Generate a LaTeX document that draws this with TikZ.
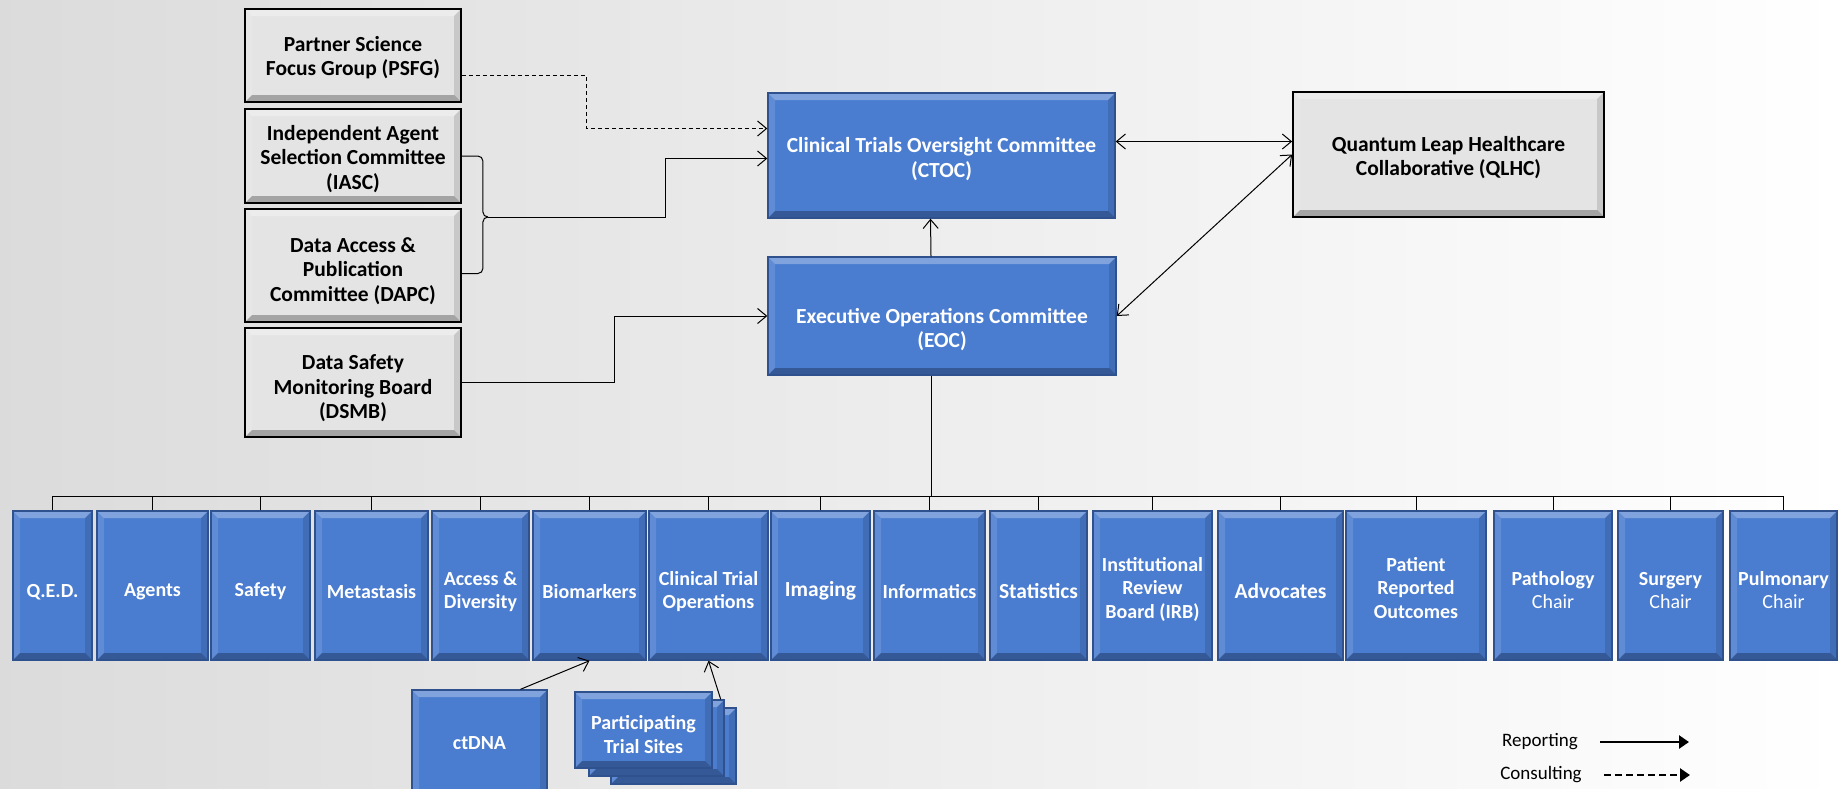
\documentclass[tikz,border=0pt]{standalone}
\usepackage{fontspec}
\setmainfont{Carlito}
\usetikzlibrary{arrows.meta}
\definecolor{boxblue}{HTML}{4A7CD0}
\definecolor{blueedge}{HTML}{2F528F}
\definecolor{boxgray}{HTML}{E4E4E4}

\begin{document}
\begin{tikzpicture}[x=1pt,y=-1pt,
  bevel/.style={path picture={
    \coordinate (pa) at (path picture bounding box.north west);
    \coordinate (pb) at (path picture bounding box.north east);
    \coordinate (pc) at (path picture bounding box.south east);
    \coordinate (pd) at (path picture bounding box.south west);
    \fill[white,opacity=.3] (pa) -- (pb) -- ([shift={(-7pt,-7pt)}]pb) -- ([shift={(7pt,-7pt)}]pa) -- cycle;
    \fill[white,opacity=.12] (pa) -- ([shift={(7pt,-7pt)}]pa) -- ([shift={(7pt,7pt)}]pd) -- (pd) -- cycle;
    \fill[black,opacity=.12] (pb) -- ([shift={(-7pt,-7pt)}]pb) -- ([shift={(-7pt,7pt)}]pc) -- (pc) -- cycle;
    \fill[black,opacity=.28] (pd) -- ([shift={(7pt,7pt)}]pd) -- ([shift={(-7pt,7pt)}]pc) -- (pc) -- cycle;}},
  lower/.style={execute at begin node={\rule{0pt}{#1}}},
  graybox/.style={draw=black,line width=1.8pt,fill=boxgray,bevel,align=center,inner sep=2pt,
    font=\bfseries\fontsize{21.5}{24.5}\selectfont},
  bluebox/.style={draw=blueedge,line width=1.4pt,fill=boxblue,bevel,align=center,inner sep=2pt,
    text=white,font=\bfseries\fontsize{21.5}{24.5}\selectfont},
  unitbox/.style={bluebox,minimum height=149pt,font=\bfseries\fontsize{20}{23.5}\selectfont},
  rep/.style={-{Straight Barb[length=9pt,width=15pt]},line width=1pt},
  both/.style={{Straight Barb[length=9pt,width=15pt]}-{Straight Barb[length=9pt,width=15pt]},line width=1pt},
  con/.style={rep,dash pattern=on 4pt off 3pt},
  legtext/.style={inner sep=0pt,font=\fontsize{19}{22}\selectfont},
  legarrow/.style={-{Triangle[length=10pt,width=13pt]},line width=2.6pt}]

  \useasboundingbox (0,0) rectangle (1844,788);
  \clip (0,0) rectangle (1844,788);
  \shade[left color=black!14,middle color=black!5,right color=white] (0,0) rectangle (1844,788);

  % committees on the left
  \node[graybox,minimum width=216pt,minimum height=93pt,lower=44pt] (psfg) at (353,55.5) {Partner Science\\Focus Group (PSFG)};
  \node[graybox,minimum width=216pt,minimum height=94pt,lower=69.5pt] (iasc) at (353,156) {Independent Agent\\Selection Committee\\(IASC)};
  \node[graybox,minimum width=216pt,minimum height=113pt,lower=74.5pt] (dapc) at (353,265.5) {Data Access \&\\Publication\\Committee (DAPC)};
  \node[graybox,minimum width=216pt,minimum height=109pt,lower=75.5pt] (dsmb) at (353,382.5) {Data Safety\\Monitoring Board\\(DSMB)};

  % central committees
  \node[bluebox,minimum width=347pt,minimum height=125pt,lower=47pt] (ctoc) at (941.5,155.5) {Clinical Trials Oversight Committee\\(CTOC)};
  \node[bluebox,minimum width=348pt,minimum height=118pt,lower=67pt] (eoc) at (942,316) {Executive Operations Committee\\(EOC)};
  \node[graybox,minimum width=311pt,minimum height=125pt,lower=46pt] (qlhc) at (1448.5,154.5) {Quantum Leap Healthcare\\Collaborative (QLHC)};

  % working groups
  \foreach \n/\x/\w/\h/\t in {
    qed/52.5/79/26/{Q.E.D.},
    agents/152.5/111/26/Agents,
    safety/260.5/99/26/Safety,
    metastasis/371.5/113/26/Metastasis,
    access/480.5/97/49.5/{Access \&\\Diversity},
    biomarkers/589.5/113/26/Biomarkers,
    cto/708.5/119/49.5/{Clinical Trial\\Operations},
    imaging/820.5/99/26/{\fontsize{21.5}{24}\selectfont Imaging},
    informatics/929.5/111/26/Informatics,
    statistics/1038.5/97/26/{\fontsize{21.5}{24}\selectfont Statistics},
    irb/1152.5/119/69/{Institutional\\Review\\Board (IRB)},
    advocates/1280.5/125/26/{\fontsize{21.5}{24}\selectfont Advocates},
    pro/1416/140/66/{Patient\\Reported\\Outcomes},
    pathology/1553/118/47/{Pathology\\{\mdseries Chair}},
    surgery/1670.5/105/47/{Surgery\\{\mdseries Chair}},
    pulmonary/1783.5/107/47/{Pulmonary\\{\mdseries Chair}}}
    \node[unitbox,minimum width={\w pt},lower={\h pt}] (\n) at (\x,585.5) {\t};

  \node[bluebox,minimum width=135pt,minimum height=106pt,font=\bfseries\fontsize{20}{23.5}\selectfont] (ctdna) at (479.5,743) {ctDNA};
  \node[bluebox,minimum width=125pt,minimum height=76pt] (pts3) at (673.5,746) {};
  \node[bluebox,minimum width=135pt,minimum height=76pt] (pts2) at (656.5,738) {};
  \node[bluebox,minimum width=137pt,minimum height=76pt,lower=47pt,font=\bfseries\fontsize{20}{24}\selectfont] (pts) at (643.5,730) {Participating\\Trial Sites};

  % reporting lines
  \coordinate (bus) at (0,496);
  \draw[line width=1pt] (qed.north |- bus) -- (pulmonary.north |- bus);
  \foreach \n in {qed,agents,safety,metastasis,access,biomarkers,cto,imaging,informatics,statistics,irb,advocates,pro,pathology,surgery,pulmonary}
    \draw[line width=1pt] (\n.north) -- (\n.north |- bus);
  \draw[line width=1pt] ([xshift=-11pt]eoc.south) -- ([xshift=-11pt]eoc.south |- bus);
  \draw[rep] ([xshift=-11pt]eoc.north) -- ([xshift=-11pt]ctoc.south);

  \draw[con] ([yshift=-20pt]psfg.east) -| ([xshift=-181pt,yshift=27pt]ctoc.west) -- ([yshift=27pt]ctoc.west);
  \coordinate (tip) at (488,217);
  \draw[line width=1pt,rounded corners=5pt] (iasc.east) -- ++(21,0) |- (tip);
  \draw[line width=1pt,rounded corners=5pt] ([yshift=-8pt]dapc.east) -- ++(21,0) |- (tip);
  \draw[rep] (tip) -| ([xshift=-102pt,yshift=-3pt]ctoc.west) -- ([yshift=-3pt]ctoc.west);
  \draw[rep] (dsmb.east) -| ([xshift=-153pt]eoc.west) -- (eoc.west);

  \draw[both] ([yshift=14pt]ctoc.east) -- ([yshift=14pt]ctoc.east -| qlhc.west);
  \draw[both] (eoc.east) -- (qlhc.west);

  \draw[rep] ([xshift=41pt]ctdna.north) -- (biomarkers.south);
  \draw[rep] ([xshift=-4pt]pts2.north east) -- (cto.south);

  % legend
  \node[legtext] (reptxt) at (1540,742) {Reporting};
  \coordinate (repend) at (1689,742);
  \draw[legarrow] ([xshift=22pt]reptxt.east) -- (repend);
  \node[legtext] (contxt) at (1541,775) {Consulting};
  \coordinate (conend) at (1690,775);
  \draw[legarrow,dash pattern=on 7pt off 4pt] ([xshift=22pt]contxt.east) -- (conend);
\end{tikzpicture}
\end{document}
